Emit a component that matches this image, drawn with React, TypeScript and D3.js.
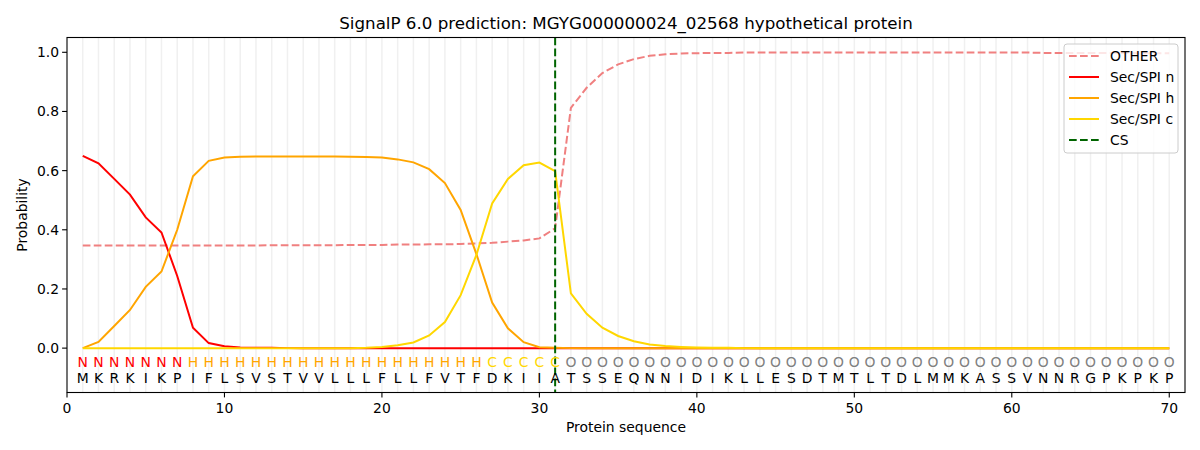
import React from 'react';
import * as d3 from 'd3';

const sequence = 'MKRKIKPIFLSVSTVVLLLFLLFVTFDKIIATSSEQNNIDIKLLESDTMTLTDLMMKASSVNNRGPKPKP'.split('');
const regionLabels = 'NNNNNNNHHHHHHHHHHHHHHHHHHHCCCCCOOOOOOOOOOOOOOOOOOOOOOOOOOOOOOOOOOOOOOO'.split('');

const otherProb = [
  0.347, 0.347, 0.347, 0.347, 0.347, 0.347, 0.347, 0.347, 0.347, 0.347,
  0.347, 0.347, 0.348, 0.348, 0.348, 0.348, 0.348, 0.349, 0.349, 0.349,
  0.350, 0.350, 0.351, 0.351, 0.352, 0.354, 0.356, 0.360, 0.364, 0.371,
  0.405, 0.812, 0.880, 0.930, 0.959, 0.977, 0.988, 0.993, 0.996, 0.997,
  0.998, 0.998, 0.999, 0.999, 0.999, 0.999, 0.999, 0.999, 0.999, 0.999,
  0.999, 0.999, 0.999, 0.999, 0.999, 0.999, 0.999, 0.999, 0.999, 0.999,
  0.999, 0.998, 0.998, 0.998, 0.998, 0.998, 0.998, 0.997, 0.997, 0.997,
];
const secN = [
  0.650, 0.625, 0.572, 0.519, 0.442, 0.391, 0.244, 0.069, 0.017, 0.006,
  0.002, 0.001, 0.001, 0, 0, 0, 0, 0, 0, 0,
  0, 0, 0, 0, 0, 0, 0, 0, 0, 0,
  0, 0, 0, 0, 0, 0, 0, 0, 0, 0,
  0, 0, 0, 0, 0, 0, 0, 0, 0, 0,
  0, 0, 0, 0, 0, 0, 0, 0, 0, 0,
  0, 0, 0, 0, 0, 0, 0, 0, 0, 0,
];
const secH = [
  0, 0.021, 0.075, 0.129, 0.207, 0.259, 0.400, 0.581, 0.633, 0.644,
  0.647, 0.648, 0.648, 0.648, 0.648, 0.648, 0.648, 0.647, 0.646, 0.644,
  0.638, 0.628, 0.605, 0.558, 0.467, 0.318, 0.154, 0.067, 0.020, 0.003,
  0.001, 0, 0, 0, 0, 0, 0, 0, 0, 0,
  0, 0, 0, 0, 0, 0, 0, 0, 0, 0,
  0, 0, 0, 0, 0, 0, 0, 0, 0, 0,
  0, 0, 0, 0, 0, 0, 0, 0, 0, 0,
];
const secC = [
  0, 0, 0, 0, 0, 0, 0, 0, 0, 0,
  0, 0, 0, 0, 0, 0, 0, 0, 0.001, 0.004,
  0.010, 0.019, 0.043, 0.088, 0.179, 0.315, 0.489, 0.572, 0.618, 0.627,
  0.598, 0.185, 0.116, 0.069, 0.041, 0.023, 0.012, 0.007, 0.004, 0.002,
  0.001, 0.001, 0, 0, 0, 0, 0, 0, 0, 0,
  0, 0, 0, 0, 0, 0, 0, 0, 0, 0,
  0, 0, 0, 0, 0, 0, 0, 0, 0, 0,
];
const cleavageSite = 31;
const xTicks = [0, 10, 20, 30, 40, 50, 60, 70];
const yTicks = [0, 0.2, 0.4, 0.6, 0.8, 1.0];

const labelColors: Record<string, string> = { N: '#ff0000', H: '#ffa500', C: '#ffd700', O: '#808080' };

const series = [
  { name: 'OTHER', values: otherProb, color: '#f08080', dash: '7.7,3.3' },
  { name: 'Sec/SPI n', values: secN, color: '#ff0000', dash: null },
  { name: 'Sec/SPI h', values: secH, color: '#ffa500', dash: null },
  { name: 'Sec/SPI c', values: secC, color: '#ffd700', dash: null },
];

const W = 1200;
const H = 450;
const left = 67, right = 1185, top = 37.5, bottom = 392.5;
const font = 'DejaVu Sans, sans-serif';

export default function App() {
  const x = d3.scaleLinear().domain([0, 71]).range([left, right]);
  const y = d3.scaleLinear().domain([-0.15, 1.05]).range([bottom, top]);
  const positions = sequence.map((_, i) => i + 1);
  const line = d3.line<number>().x((_, i) => x(i + 1)).y(d => y(d));

  const legendItems = [
    ...series.map(s => ({ name: s.name, color: s.color, dash: s.dash })),
    { name: 'CS', color: '#006400', dash: '7.7,3.3' },
  ];
  const lgX = 1064, lgY = 44, lgW = 114, lgH = 109;

  return (
    <svg width={W} height={H} style={{ position: 'absolute', left: 0, top: 0 }} fontFamily={font}>
      <rect width={W} height={H} fill="#fff" />
      <text x={(left + right) / 2} y={29} textAnchor="middle" fontSize={16.7} fill="#000">
        SignalP 6.0 prediction: MGYG000000024_02568 hypothetical protein
      </text>

      {/* vertical grid per residue */}
      {positions.map(p => (
        <line key={'g' + p} x1={x(p)} x2={x(p)} y1={top} y2={bottom} stroke="#f0f0f0" strokeWidth={1.5} />
      ))}

      {series.map(s => (
        <path key={s.name} d={line(s.values) ?? ''} fill="none" stroke={s.color}
          strokeWidth={2} strokeDasharray={s.dash ?? undefined} />
      ))}

      <line x1={x(cleavageSite)} x2={x(cleavageSite)} y1={top} y2={bottom}
        stroke="#006400" strokeWidth={2} strokeDasharray="7.7,3.3" />

      {/* region labels and residues */}
      {regionLabels.map((l, i) => (
        <text key={'l' + i} x={x(i + 1)} y={y(-0.047) + 5} textAnchor="middle" fontSize={13.9}
          fill={labelColors[l]}>{l}</text>
      ))}
      {sequence.map((a, i) => (
        <text key={'s' + i} x={x(i + 1)} y={y(-0.1) + 5} textAnchor="middle" fontSize={13.9}
          fill="#000">{a}</text>
      ))}

      {/* axes frame */}
      <rect x={left} y={top} width={right - left} height={bottom - top} fill="none" stroke="#000" strokeWidth={1.1} />

      {xTicks.map(t => (
        <g key={'xt' + t}>
          <line x1={x(t)} x2={x(t)} y1={bottom} y2={bottom + 4.9} stroke="#000" strokeWidth={1.1} />
          <text x={x(t)} y={bottom + 20} textAnchor="middle" fontSize={13.9} fill="#000">{t}</text>
        </g>
      ))}
      {yTicks.map(t => (
        <g key={'yt' + t}>
          <line x1={left - 4.9} x2={left} y1={y(t)} y2={y(t)} stroke="#000" strokeWidth={1.1} />
          <text x={left - 8} y={y(t) + 5} textAnchor="end" fontSize={13.9} fill="#000">{t.toFixed(1)}</text>
        </g>
      ))}

      <text x={(left + right) / 2} y={432} textAnchor="middle" fontSize={13.9} fill="#000">Protein sequence</text>
      <text transform={`translate(27,${(top + bottom) / 2}) rotate(-90)`} textAnchor="middle" fontSize={13.9} fill="#000">Probability</text>

      {/* legend */}
      <rect x={lgX} y={lgY} width={lgW} height={lgH} rx={3} fill="#fff" fillOpacity={0.8} stroke="#cccccc" strokeWidth={1} />
      {legendItems.map((it, i) => {
        const cy = lgY + 12 + i * 21;
        return (
          <g key={'lg' + it.name}>
            <line x1={lgX + 5} x2={lgX + 35} y1={cy} y2={cy} stroke={it.color} strokeWidth={2}
              strokeDasharray={it.dash ?? undefined} />
            <text x={lgX + 46} y={cy + 5} fontSize={13.9} fill="#000">{it.name}</text>
          </g>
        );
      })}
    </svg>
  );
}
